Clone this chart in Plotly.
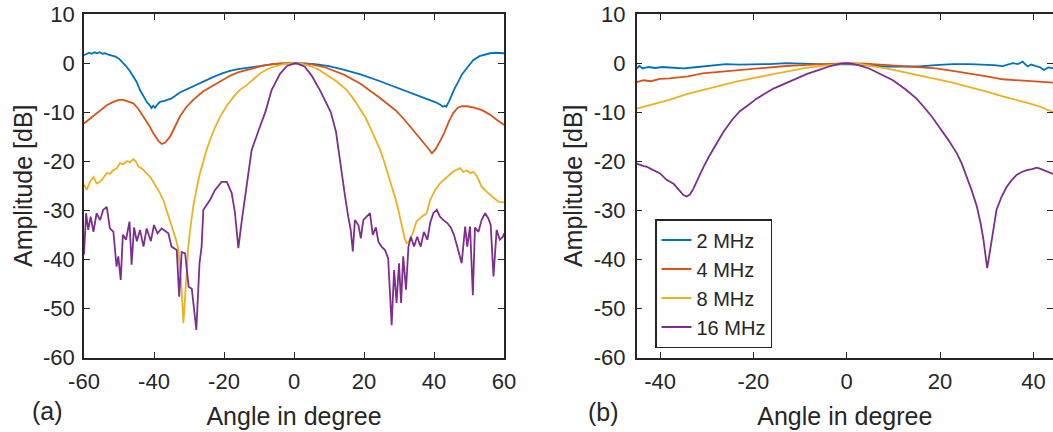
import plotly.graph_objects as go

# ---------------- data: panel (a) ----------------
a_2mhz_x = [-60, -59.2, -58.5, -57.8, -57, -56.2, -55.5, -54.7, -54, -53, -52, -51, -50, -49, -48, -47, -46, -45,
            -44, -43, -42, -41.2, -40.7, -40.2, -39.7, -39, -38.3, -37, -35, -32.6, -30, -27.8, -25, -23, -20.5,
            -18.3, -16, -13.5, -11, -8.8, -6, -3, 0, 3, 6, 10, 14.4, 19, 24.2, 29, 34, 38, 40.5, 41.8, 42.5, 43,
            43.5, 44.3, 45, 45.8, 46.8, 48, 49.7, 51.2, 53, 55, 56, 57.5, 59, 60]
a_2mhz_y = [1.6, 1.8, 2.1, 1.9, 2.2, 2.0, 2.2, 1.9, 2.0, 1.7, 1.5, 1.3, 0.9, 0.2, -0.6, -1.5, -2.6, -3.8,
            -5.5, -6.8, -8.0, -8.6, -9.2, -8.7, -9.1, -8.4, -7.9, -7.7, -7.2, -6.0, -5.1, -4.3, -3.4, -2.8, -2.1,
            -1.6, -1.25, -0.95, -0.65, -0.45, -0.2, -0.05, 0, -0.05, -0.2, -0.6, -1.4, -2.3, -3.6, -4.9, -6.2, -7.3,
            -8.0, -8.5, -8.9, -8.7, -8.9, -7.8, -6.6, -5.3, -4.0, -2.3, -0.75, 0.6, 1.4, 1.9, 2.0, 2.1, 2.0, 2.0]

a_4mhz_x = [-60, -57.5, -55.4, -53.5, -51.6, -50, -48.8, -47.3, -45.9, -44.5, -43, -41.5, -40.2, -38.8, -37.8,
            -36.8, -35.4, -34, -32.6, -30.8, -28.8, -26, -23, -20.5, -18.3, -16, -13.5, -11, -8.8, -4.9, 0, 4.6,
            9, 14.4, 19, 24.2, 29, 31.5, 34, 36.5, 38.5, 39.4, 40.5, 41.8, 42.9, 44.2, 45.5, 46.8, 48, 49.5,
            51.5, 53.7, 56, 58, 60]
a_4mhz_y = [-12.3, -10.8, -9.6, -8.6, -7.9, -7.5, -7.5, -7.8, -8.2, -9.3, -10.9, -12.6, -14.3, -15.8, -16.5,
            -16.2, -15.0, -13.0, -10.9, -9.0, -7.5, -5.8, -4.5, -3.4, -2.6, -1.9, -1.4, -0.9, -0.5, -0.1, 0, -0.2,
            -0.9, -2.4, -4.2, -6.9, -9.6, -11.5, -13.6, -15.8, -17.5, -18.4, -17.5, -15.8, -14.3, -12.0, -10.2,
            -9.1, -8.8, -8.8, -9.1, -9.6, -10.5, -11.6, -12.6]

a_8mhz_x = [-60, -59.2, -58.3, -57.3, -56.4, -55.4, -54.5, -53.5, -52.6, -51.6, -50.7, -49.7, -48.8, -47.8,
            -46.9, -45.9, -45.2, -44.5, -43.5, -43, -42, -41.1, -40.2, -39.2, -38.3, -37.3, -36.4, -35.4, -34.5,
            -33.7, -33, -32.5, -32.1, -31.6, -30.9, -30.2, -29.5, -28.8, -27.8, -26.9, -24.9, -23, -21.1, -19.2,
            -17.3, -15.4, -13.5, -11.6, -9.7, -7.8, -5.9, -3, 0, 2.3, 4.6, 7, 9.5, 12.3, 15.1, 17, 19, 20.5, 22,
            23.3, 24.5, 25.5, 26.5, 27.5, 28.4, 29.1, 29.8, 30.8, 31.7, 32.2, 32.7, 33.9, 35, 36.5, 37.9, 38.9,
            40.3, 41.7, 43.6, 45.5, 46.9, 47.5, 48.4, 49.4, 50.3, 51.3, 52.2, 53.6, 55, 56, 57.3, 58.5, 60]
a_8mhz_y = [-24.8, -25.8, -24.2, -23.2, -24.5, -24.2, -23.4, -22.4, -22.6, -21.8, -21.5, -20.4, -20.6, -20.0,
            -20.2, -19.6, -20.0, -21.1, -21.5, -21.8, -22.6, -23.2, -24.2, -25.3, -26.5, -28.0, -29.9, -32.0, -34.0,
            -36.0, -38.1, -42.0, -46.2, -53.0, -44.9, -37.4, -33.0, -29.3, -25.5, -22.5, -17.5, -13.8, -10.9, -8.7,
            -6.9, -5.4, -4.5, -3.2, -2.1, -1.3, -0.75, -0.2, 0, -0.15, -0.6, -1.3, -2.4, -3.8, -5.5, -7.3, -9.5,
            -11.2, -13.5, -15.5, -17.5, -19.5, -21.8, -23.8, -25.9, -27.9, -29.9, -33.3, -36.0, -36.7, -36.5,
            -34.7, -32.3, -31.3, -30.6, -27.9, -25.9, -24.5, -23.2, -22.1, -21.6, -21.4, -22.2, -21.9, -22.4,
            -22.2, -23.0, -25.2, -26.2, -26.9, -27.6, -28.3, -28.4]

a_16mhz_x = [-60, -59.4, -58.8, -58.1, -57.3, -56.4, -55.4, -54.5, -53.5, -52.6, -51.6, -50.7, -50.2, -49.5,
             -48.9, -48, -47, -46.4, -45.7, -44.9, -44, -43, -42.1, -40.9, -40, -39, -37.8, -36.6, -35.9, -35,
             -33.5, -32.8, -32.1, -31.1, -30.1, -29.2, -27.9, -27, -26.4, -25.9, -24.5, -24, -22.6, -20.7, -19.2,
             -17.8, -16.9, -15.9, -14.9, -13.5, -12.1, -10, -8.2, -6.4, -4, -2, 0.5, 3, 5, 7.4, 10.5, 12, 13.1,
             14.6, 15.5, 16.2, 16.8, 17.4, 18.4, 19.1, 19.8, 20.8, 21.7, 22.5, 23.4, 24.1, 25, 26, 26.9, 27.9,
             28.6, 29.3, 30, 30.6, 31.2, 32, 32.7, 33.4, 34.3, 35.2, 36.2, 37.1, 38.1, 38.9, 39.8, 40.8, 41.7,
             42.7, 43.8, 44.8, 45.7, 46.9, 47.9, 48.9, 49.5, 50.3, 51.1, 51.7, 52.7, 53.6, 54.6, 55.5, 56.2, 57,
             57.9, 58.8, 59.7, 60]
a_16mhz_y = [-39.0, -30.6, -34.0, -31.3, -34.4, -30.6, -32.0, -29.9, -29.3, -33.7, -34.4, -41.5, -39.4, -44.2,
             -35.0, -36.0, -32.3, -41.1, -33.5, -36.3, -34.0, -37.4, -33.7, -36.3, -33.0, -34.7, -33.7, -34.4,
             -34.7, -37.4, -38.1, -47.6, -38.5, -38.8, -45.6, -46.0, -54.4, -40.8, -37.4, -29.9, -28.6, -27.9,
             -25.9, -24.2, -24.2, -26.5, -30.3, -37.7, -32.0, -24.5, -17.7, -13.5, -10.0, -5.5, -2.2, -0.6, 0,
             -0.7, -2.5, -5.5, -10.0, -14.0, -20.0, -27.2, -31.3, -34.0, -38.4, -32.0, -33.0, -35.7, -32.0, -31.3,
             -30.6, -35.0, -33.5, -36.4, -37.4, -38.1, -39.8, -53.4, -42.2, -48.9, -40.8, -48.9, -39.4, -46.2,
             -37.4, -35.4, -37.4, -35.4, -37.4, -34.4, -36.0, -32.6, -30.6, -29.9, -31.3, -32.0, -32.6, -33.5,
             -35.0, -38.1, -40.8, -33.3, -37.4, -33.3, -47.3, -33.5, -34.4, -32.0, -30.6, -31.6, -33.0, -43.5,
             -34.0, -36.0, -35.4, -34.7]

# ---------------- data: panel (b) ----------------
b_2mhz_x = [-45, -44.4, -43.7, -42.5, -41, -39.5, -38, -36.5, -35, -33, -30.9, -28.5, -25.9, -23, -20.1, -16.5,
            -13, -9.5, -5.9, -2.5, 0, 3, 5.5, 8.4, 12, 15.6, 19, 22.7, 26.3, 29.8, 31.5, 33.4, 34.5, 35.6, 36.7,
            37.7, 38.2, 38.8, 39.5, 40.6, 41.5, 42.3, 43.2, 44.2]
b_2mhz_y = [-1.1, -0.6, -1.1, -0.8, -1.0, -0.8, -0.9, -1.0, -1.1, -0.9, -0.7, -0.4, -0.2, -0.3, -0.3, -0.2,
            0.0, -0.1, -0.3, -0.3, -0.2, -0.3, -0.5, -0.7, -0.7, -0.7, -0.4, -0.2, -0.2, -0.3, -0.4, -0.6, -0.3,
            0.0, -0.2, 0.3, -0.2, -0.7, -0.3, -0.6, -0.9, -1.4, -0.9, -1.1]

b_4mhz_x = [-45, -43.5, -42, -40, -38, -36, -34, -30.9, -27.5, -23.7, -20, -16.6, -13, -9.4, -5, 0, 4, 8, 12,
            15.5, 19.1, 22.7, 26.3, 30, 33.4, 36.5, 38.6, 40.6, 42.5, 44.2]
b_4mhz_y = [-3.9, -3.5, -3.7, -3.2, -3.1, -2.9, -2.7, -2.1, -1.8, -1.4, -1.1, -0.9, -0.6, -0.4, -0.15, 0, -0.1,
            -0.35, -0.6, -0.85, -1.1, -1.6, -2.1, -2.7, -3.3, -3.5, -3.7, -3.8, -4.0, -4.0]

b_8mhz_x = [-45, -43.5, -41, -38, -34.5, -30.9, -27.3, -23.7, -20.2, -16.6, -13, -9.4, -5.8, -2.5, 0, 2.5, 5.7,
            9, 12, 15.5, 19.1, 22.7, 26.3, 30, 33.4, 36.5, 39.1, 41.5, 43, 44.2]
b_8mhz_y = [-9.3, -8.9, -8.3, -7.5, -6.4, -5.5, -4.6, -3.8, -3.1, -2.4, -1.7, -1.1, -0.6, -0.2, 0, -0.15, -0.6,
            -1.2, -1.8, -2.5, -3.2, -4.0, -4.9, -5.8, -6.8, -7.5, -8.2, -8.9, -9.6, -10.0]

b_16mhz_x = [-45, -44.3, -43.5, -42.9, -41.4, -40, -38.6, -37.1, -36, -35, -34.3, -33.6, -32.9, -31.9, -30.7,
             -29.6, -28.6, -26.4, -24.5, -22.9, -21, -19.4, -17.5, -15.7, -13, -10.5, -8.5, -5.9, -3.5, -1.4, 0,
             1, 2.5, 4.8, 7.5, 9.9, 12.5, 14.9, 16.4, 18.3, 20, 21.8, 23.6, 24.7, 25.7, 26.8, 27.9, 28.7, 29.3,
             29.8, 30.1, 30.5, 31.1, 31.6, 32.1, 33.2, 34.3, 35.3, 36.4, 37.5, 38.6, 39.7, 40.7, 41.4, 42.1, 43,
             43.9, 44.2]
b_16mhz_y = [-20.5, -20.8, -21.0, -21.1, -21.8, -22.5, -23.8, -24.6, -25.8, -26.9, -27.2, -26.8, -25.7, -23.5,
             -21.2, -19.2, -17.6, -14.0, -11.5, -9.8, -8.5, -7.3, -6.2, -5.2, -4.1, -3.0, -2.2, -1.4, -0.6, -0.1,
             0, -0.1, -0.4, -1.1, -2.3, -3.5, -5.3, -7.2, -8.8, -11.0, -13.3, -15.7, -18.4, -20.6, -23.2, -26.0,
             -29.3, -32.7, -36.0, -39.5, -41.8, -39.5, -36.0, -32.8, -29.9, -27.2, -25.2, -23.9, -22.8, -22.2,
             -21.8, -21.6, -21.3, -21.5, -21.8, -22.2, -22.5, -22.6]

series_names = ["2 MHz", "4 MHz", "8 MHz", "16 MHz"]
series_colors = ["#0072BD", "#D95319", "#EDB120", "#7E2F8E"]

ytick_vals = [-60, -50, -40, -30, -20, -10, 0, 10]
ytick_text = ["-60", "-50", "-40", "-30", "-20", "-10", "0", "10"]
xa_tick_vals = [-60, -40, -20, 0, 20, 40, 60]
xa_tick_text = ["-60", "-40", "-20", "0", "20", "40", "60"]
xb_tick_vals = [-40, -20, 0, 20, 40]
xb_tick_text = ["-40", "-20", "0", "20", "40"]

# ---------------- figure ----------------
INK = "#262626"
FONT = "Liberation Sans, Arial, sans-serif"

fig = go.Figure()

panel_a = [(a_2mhz_x, a_2mhz_y), (a_4mhz_x, a_4mhz_y), (a_8mhz_x, a_8mhz_y), (a_16mhz_x, a_16mhz_y)]
panel_b = [(b_2mhz_x, b_2mhz_y), (b_4mhz_x, b_4mhz_y), (b_8mhz_x, b_8mhz_y), (b_16mhz_x, b_16mhz_y)]

for (xs, ys), name, col in zip(panel_a, series_names, series_colors):
    fig.add_trace(go.Scatter(x=xs, y=ys, mode="lines", name=name, showlegend=False,
                             line=dict(color=col, width=1.8), xaxis="x", yaxis="y"))
for (xs, ys), name, col in zip(panel_b, series_names, series_colors):
    fig.add_trace(go.Scatter(x=xs, y=ys, mode="lines", name=name, showlegend=True,
                             line=dict(color=col, width=1.8), xaxis="x2", yaxis="y2"))

W, H = 1053, 432

def xdom(l, r):
    return [l / W, min(r / W, 1.0)]

ydom = [1 - 357.5 / H, 1 - 14 / H]

axis_common = dict(showline=True, linecolor=INK, linewidth=1.5, mirror="ticks", ticks="inside",
                   ticklen=6, tickwidth=1.3, tickcolor=INK, showgrid=False, zeroline=False,
                   automargin=False,
                   tickfont=dict(family=FONT, size=22, color=INK))
title_font = dict(family=FONT, size=25, color=INK)

fig.update_layout(
    width=W, height=H,
    margin=dict(l=0, r=0, t=0, b=0, autoexpand=False),
    paper_bgcolor="white", plot_bgcolor="white",
    font=dict(family=FONT, color=INK),
    xaxis=dict(domain=xdom(84, 504), range=[-60, 60], tickvals=xa_tick_vals, ticktext=xa_tick_text,
               anchor="y", ticklabelstandoff=3,
               title=dict(text="Angle in degree", font=title_font, standoff=15), **axis_common),
    yaxis=dict(domain=ydom, range=[-60, 10], tickvals=ytick_vals, ticktext=ytick_text, anchor="x",
               ticklabelstandoff=3,
               title=dict(text="Amplitude [dB]", font=title_font, standoff=3), **axis_common),
    xaxis2=dict(domain=xdom(636.7, 1053), range=[-45, 44.2], tickvals=xb_tick_vals, ticktext=xb_tick_text,
                anchor="y2", ticklabelstandoff=3,
                title=dict(text="Angle in degree", font=title_font, standoff=15), **axis_common),
    yaxis2=dict(domain=ydom, range=[-60, 10], tickvals=ytick_vals, ticktext=ytick_text, anchor="x2",
                ticklabelstandoff=5,
                title=dict(text="Amplitude [dB]", font=title_font, standoff=4), **axis_common),
    legend=dict(x=655 / W, y=1 - 219 / H, xanchor="left", yanchor="top",
                bgcolor="white", bordercolor=INK, borderwidth=1.5,
                font=dict(family=FONT, size=20, color=INK), tracegroupgap=0),
    annotations=[
        dict(text="(a)", x=47.6 / W, y=1 - 410.6 / H, xref="paper", yref="paper", showarrow=False,
             xanchor="center", yanchor="middle", font=title_font),
        dict(text="(b)", x=603 / W, y=1 - 411.7 / H, xref="paper", yref="paper", showarrow=False,
             xanchor="center", yanchor="middle", font=title_font),
    ],
)

fig.write_html("out.html")
